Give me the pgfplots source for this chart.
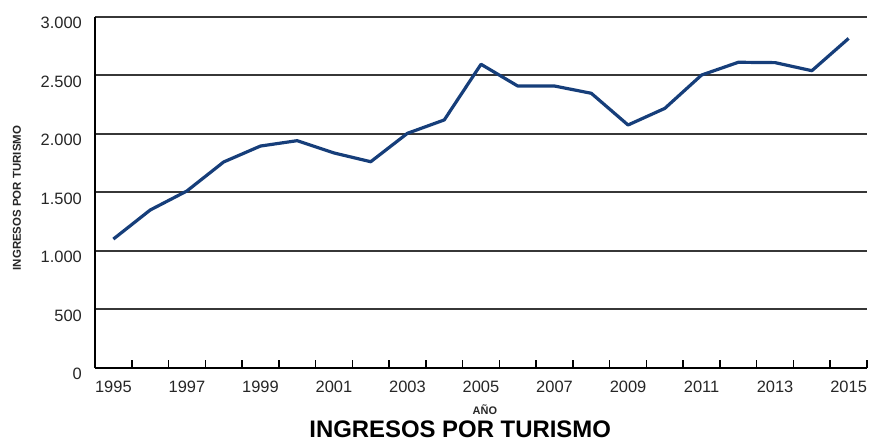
\documentclass[border=0pt]{standalone}
\usepackage{pgfplots}
\pgfplotsset{compat=1.18}
\usepackage{fontspec}
\setmainfont{Liberation Sans}
\definecolor{linecol}{RGB}{22,62,122}
\definecolor{gridcol}{RGB}{55,55,55}
\begin{document}
\begin{tikzpicture}
\useasboundingbox (0,0) rectangle (874bp,441bp);
\begin{axis}[
  at={(95bp,73bp)}, anchor=south west,
  scale only axis, width=772bp, height=351bp,
  xmin=-0.5, xmax=20.5, ymin=0, ymax=3000,
  axis x line*=bottom, axis y line*=left,
  axis line style={black, line width=2bp, -},
  xtick={0,2,...,20},
  xticklabels={1995,1997,1999,2001,2003,2005,2007,2009,2011,2013,2015},
  minor xtick={0.5,1.5,...,20.5},
  major tick length=0pt,
  minor tick length=8bp,
  minor tick style={black, line width=1.5bp},
  ytick={0,500,...,3000},
  ymajorgrids,
  major grid style={gridcol, line width=2bp},
  /pgf/number format/.cd, 1000 sep={.}, assume math mode=true,
  /pgfplots/.cd,
  tick label style={font=\fontsize{16.5}{17}\selectfont, text=black!85},
  xticklabel style={anchor=base, yshift=-24bp},
  yticklabel style={anchor=east, inner sep=0pt, xshift=-13bp, yshift=-6bp},
  clip=false,
]
\addplot[linecol, line width=3.2bp, line join=round] coordinates {
(0,1102) (1,1350) (2,1513) (3,1761) (4,1897) (5,1943) (6,1838) (7,1763)
(8,2006) (9,2120) (10,2596) (11,2410) (12,2410) (13,2348) (14,2077)
(15,2219) (16,2504) (17,2613) (18,2610) (19,2541) (20,2817)
};
\node[rotate=90, font=\bfseries\fontsize{11.5}{12}\selectfont, text=black!85] at (axis description cs:-0.101,0.484) {INGRESOS POR TURISMO};
\node[font=\bfseries\fontsize{11}{12}\selectfont, text=black!85] at (axis description cs:0.505,-0.12) {AÑO};
\node[anchor=base, font=\bfseries\fontsize{24}{26}\selectfont] at (axis description cs:0.473,-0.198) {INGRESOS POR TURISMO};
\end{axis}
\end{tikzpicture}
\end{document}
